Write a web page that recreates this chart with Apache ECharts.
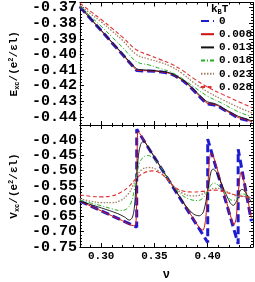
<!DOCTYPE html>
<html><head><meta charset="utf-8">
<script src="https://cdn.jsdelivr.net/npm/echarts@6/dist/echarts.min.js"></script>
<style>html,body{margin:0;padding:0;background:#fff}#c{width:255px;height:282px}</style>
</head><body><div id="c"></div>
<script>
// ---- data ----
const legendNames = ['0', '0.008', '0.013', '0.018', '0.023', '0.028'];
const xTickLabels = [0.30, 0.35, 0.40];
const eTickLabels = [-0.37, -0.38, -0.39, -0.40, -0.41, -0.42, -0.43, -0.44];
const vTickLabels = [-0.40, -0.45, -0.50, -0.55, -0.60, -0.65, -0.70, -0.75];

// top panel: E_xc
const nuE0 = [0.28, 0.29, 0.30, 0.31, 0.32, 0.3333, 0.34, 0.35, 0.36, 0.365, 0.37, 0.376, 0.382, 0.387, 0.393, 0.3995, 0.405, 0.41, 0.414, 0.418, 0.422, 0.4286, 0.435, 0.4415];
const E_T0    = [-0.3695, -0.3772, -0.3848, -0.3925, -0.4001, -0.4104, -0.4106, -0.4108, -0.4116, -0.4124, -0.4140, -0.4165, -0.4198, -0.4232, -0.4275, -0.4318, -0.4322, -0.4332, -0.4350, -0.4366, -0.4380, -0.4408, -0.4418, -0.4434];
const E_T008  = [-0.3695, -0.3772, -0.3848, -0.3924, -0.4000, -0.4100, -0.4104, -0.4107, -0.4115, -0.4123, -0.4139, -0.4164, -0.4196, -0.4230, -0.4272, -0.4313, -0.4319, -0.4330, -0.4348, -0.4364, -0.4378, -0.4404, -0.4416, -0.4432];
const E_T013  = [-0.3695, -0.3771, -0.3846, -0.3921, -0.3996, -0.4092, -0.4099, -0.4104, -0.4112, -0.4120, -0.4135, -0.4160, -0.4192, -0.4225, -0.4265, -0.4303, -0.4312, -0.4325, -0.4342, -0.4358, -0.4372, -0.4396, -0.4410, -0.4426];
const nuS = [0.28, 0.29, 0.30, 0.31, 0.32, 0.3333, 0.345, 0.355, 0.365, 0.376, 0.387, 0.40, 0.414, 0.428, 0.4415];
const E_T018  = [-0.3694, -0.3757, -0.3820, -0.3888, -0.3955, -0.4047, -0.4068, -0.4090, -0.4112, -0.4154, -0.4208, -0.4268, -0.4315, -0.4365, -0.4400];
const E_T023  = [-0.3686, -0.3740, -0.3792, -0.3850, -0.3910, -0.4002, -0.4030, -0.4050, -0.4076, -0.4122, -0.4182, -0.4240, -0.4290, -0.4336, -0.4375];
const E_T028  = [-0.3672, -0.3725, -0.3777, -0.3832, -0.3890, -0.3972, -0.4005, -0.4032, -0.4059, -0.4101, -0.4155, -0.4210, -0.4256, -0.4300, -0.4341];

// bottom panel: V_xc  [nu, V]
const V_T0 = [[0.28,-0.600],[0.33333,-0.685],[0.33334,-0.365],[0.39999,-0.735],[0.40001,-0.397],[0.42856,-0.740],[0.42858,-0.430],[0.441,-0.666]];
const V_T008 = [[0.28,-0.600],[0.30,-0.632],[0.32,-0.664],[0.330,-0.680],[0.3325,-0.676],[0.3333,-0.56],[0.3338,-0.42],[0.3345,-0.372],[0.336,-0.378],[0.35,-0.456],[0.37,-0.566],[0.385,-0.649],[0.392,-0.686],[0.3955,-0.695],[0.398,-0.66],[0.400,-0.56],[0.4015,-0.47],[0.403,-0.443],[0.405,-0.450],[0.415,-0.570],[0.422,-0.655],[0.4245,-0.678],[0.4265,-0.66],[0.4286,-0.58],[0.430,-0.525],[0.4314,-0.505],[0.433,-0.52],[0.441,-0.655]];
const V_T013 = [[0.28,-0.600],[0.30,-0.622],[0.315,-0.640],[0.322,-0.652],[0.3263,-0.662],[0.329,-0.655],[0.331,-0.625],[0.3333,-0.52],[0.335,-0.45],[0.337,-0.415],[0.3393,-0.405],[0.342,-0.412],[0.35,-0.457],[0.36,-0.512],[0.37,-0.566],[0.38,-0.618],[0.387,-0.643],[0.392,-0.648],[0.396,-0.635],[0.40,-0.566],[0.403,-0.505],[0.405,-0.495],[0.408,-0.505],[0.415,-0.56],[0.421,-0.605],[0.424,-0.614],[0.427,-0.600],[0.4286,-0.584],[0.431,-0.563],[0.433,-0.562],[0.436,-0.575],[0.441,-0.604]];
const V_T018 = [[0.28,-0.597],[0.29,-0.606],[0.30,-0.615],[0.31,-0.625],[0.318,-0.631],[0.324,-0.625],[0.328,-0.605],[0.331,-0.565],[0.3333,-0.515],[0.336,-0.475],[0.34,-0.455],[0.344,-0.451],[0.348,-0.458],[0.355,-0.485],[0.362,-0.522],[0.3683,-0.553],[0.375,-0.578],[0.383,-0.594],[0.391,-0.598],[0.396,-0.588],[0.40,-0.566],[0.403,-0.548],[0.406,-0.541],[0.41,-0.548],[0.417,-0.578],[0.423,-0.597],[0.426,-0.596],[0.4286,-0.585],[0.432,-0.576],[0.435,-0.578],[0.441,-0.592]];
const V_T023 = [[0.28,-0.592],[0.29,-0.600],[0.30,-0.605],[0.31,-0.605],[0.318,-0.598],[0.325,-0.578],[0.33,-0.548],[0.3333,-0.520],[0.338,-0.497],[0.345,-0.490],[0.352,-0.497],[0.36,-0.522],[0.3683,-0.553],[0.377,-0.575],[0.386,-0.583],[0.393,-0.580],[0.40,-0.567],[0.407,-0.558],[0.414,-0.562],[0.422,-0.576],[0.4286,-0.584],[0.435,-0.585],[0.441,-0.589]];
const V_T028 = [[0.28,-0.580],[0.29,-0.584],[0.30,-0.586],[0.31,-0.583],[0.318,-0.572],[0.326,-0.552],[0.3333,-0.525],[0.34,-0.508],[0.348,-0.501],[0.355,-0.508],[0.362,-0.527],[0.3683,-0.552],[0.376,-0.566],[0.386,-0.570],[0.395,-0.568],[0.40,-0.566],[0.407,-0.564],[0.415,-0.569],[0.4286,-0.582],[0.441,-0.587]];

// ---- helpers ----
const X_MIN = 0.28, X_MAX = 0.4425;
const E_MIN = -0.4452, E_MAX = -0.3668;
const V_MIN = -0.75, V_MAX = -0.351;
function steps(a, b, s) { const r = []; const n = Math.round((b - a) / s); for (let i = 0; i <= n; i++) r.push(+(a + i * s).toFixed(4)); return r; }
const xMinor = steps(0.28, 0.44, 0.01);
const eMinor = steps(-0.444, -0.368, 0.002);
const vMinor = steps(-0.75, -0.36, 0.01);
const zip = (xs, ys) => xs.map((x, i) => [x, ys[i]]);

const MONO = 'Liberation Mono';
function xAx(grid, pos, ticks, len, showLine, labels) {
  return {
    type: 'value', gridIndex: grid, position: pos, min: X_MIN, max: X_MAX,
    axisLine: { show: showLine, onZero: false, lineStyle: { color: '#000', width: 1 } },
    axisTick: { show: true, inside: true, length: len, customValues: ticks, lineStyle: { color: '#000', width: 1 } },
    axisLabel: labels ? { show: true, interval: 0, customValues: labels, showMinLabel: true, showMaxLabel: true, formatter: v => v.toFixed(2), color: '#000', fontFamily: MONO, fontWeight: 'bold', fontSize: 11, margin: 4 } : { show: false },
    splitLine: { show: false }
  };
}
function yAx(grid, pos, mn, mx, ticks, len, showLine, labels, name) {
  const o = {
    type: 'value', gridIndex: grid, position: pos, min: mn, max: mx,
    axisLine: { show: showLine, onZero: false, lineStyle: { color: '#000', width: 1 } },
    axisTick: { show: true, inside: true, length: len, customValues: ticks, lineStyle: { color: '#000', width: 1 } },
    axisLabel: labels ? { show: true, interval: 0, customValues: labels, showMinLabel: true, showMaxLabel: true, hideOverlap: false, formatter: v => v.toFixed(2), color: '#000', fontFamily: MONO, fontWeight: 'bold', fontSize: 15, lineHeight: 12, margin: 3 } : { show: false },
    splitLine: { show: false }
  };
  if (name) {
    o.name = name; o.nameLocation = 'middle'; o.nameRotate = 90; o.nameGap = 38;
    o.nameTextStyle = { color: '#000', fontFamily: MONO, fontWeight: 'bold', fontSize: 11,
      rich: { b: { fontFamily: MONO, fontWeight: 'bold', fontSize: 11, color: '#000' },
              sub: { fontFamily: MONO, fontWeight: 'bold', fontSize: 7, color: '#000', padding: [6, 0, 0, 0] },
              sup: { fontFamily: MONO, fontWeight: 'bold', fontSize: 7, color: '#000', padding: [0, 0, 6, 0] } } };
  }
  return o;
}

const styles = [
  { color: '#1c1cd0', width: 3, type: [8, 4] },
  { color: '#cc1111', width: 1, type: 'solid' },
  { color: '#111111', width: 0.9, type: 'solid' },
  { color: '#22b022', width: 1, type: [4, 2, 1, 2] },
  { color: '#a58060', width: 1.3, type: [1.5, 1.5] },
  { color: '#e03030', width: 1.1, type: [4, 2.5] }
];
const topData = [zip(nuE0, E_T0), zip(nuE0, E_T008), zip(nuE0, E_T013), zip(nuS, E_T018), zip(nuS, E_T023), zip(nuS, E_T028)];
const botData = [V_T0, V_T008, V_T013, V_T018, V_T023, V_T028];
const smoothTop = [false, 0.2, 0.3, 0.4, 0.4, 0.4];
const smoothBot = [false, 0.25, 0.3, 0.4, 0.4, 0.4];

const series = [];
legendNames.forEach((nm, i) => {
  series.push({ name: nm, type: 'line', xAxisIndex: 0, yAxisIndex: 0, data: topData[i], symbol: 'none', smooth: smoothTop[i], lineStyle: styles[i], itemStyle: { color: styles[i].color }, z: 2 + i, animation: false });
  series.push({ name: nm, type: 'line', xAxisIndex: 4, yAxisIndex: 4, data: botData[i], symbol: 'none', smooth: smoothBot[i], lineStyle: styles[i], itemStyle: { color: styles[i].color }, z: 2 + i, animation: false });
});

const chart = echarts.init(document.getElementById('c'), null, { renderer: 'canvas' });
chart.setOption({
  animation: false,
  backgroundColor: '#fff',
  grid: [
    { left: 53, right: 2, top: 2, height: 123 },
    { left: 53, right: 2, top: 125, height: 124 }
  ],
  xAxis: [
    xAx(0, 'bottom', xTickLabels, 4, true, null),
    xAx(0, 'top', xTickLabels, 4, true, null),
    xAx(0, 'bottom', xMinor, 2, false, null),
    xAx(0, 'top', xMinor, 2, false, null),
    Object.assign(xAx(1, 'bottom', xTickLabels, 4, true, xTickLabels), { name: 'ν', nameLocation: 'middle', nameGap: 22, nameTextStyle: { color: '#000', fontFamily: MONO, fontWeight: 'bold', fontSize: 12 } }),
    xAx(1, 'top', xTickLabels, 4, true, null),
    xAx(1, 'bottom', xMinor, 2, false, null),
    xAx(1, 'top', xMinor, 2, false, null)
  ],
  yAxis: [
    yAx(0, 'left', E_MIN, E_MAX, eTickLabels, 4, true, eTickLabels, '{b|E}{sub|xc}{b|/(e}{sup|2}{b|/εl)}'),
    yAx(0, 'right', E_MIN, E_MAX, eTickLabels, 4, true, null),
    yAx(0, 'left', E_MIN, E_MAX, eMinor, 2, false, null),
    yAx(0, 'right', E_MIN, E_MAX, eMinor, 2, false, null),
    yAx(1, 'left', V_MIN, V_MAX, vTickLabels, 4, true, vTickLabels, '{b|V}{sub|xc}{b|/(e}{sup|2}{b|/εl)}'),
    yAx(1, 'right', V_MIN, V_MAX, vTickLabels, 4, true, null),
    yAx(1, 'left', V_MIN, V_MAX, vMinor, 2, false, null),
    yAx(1, 'right', V_MIN, V_MAX, vMinor, 2, false, null)
  ],
  legend: {
    data: legendNames, orient: 'vertical', left: 200, top: 15.5, itemWidth: 13, itemHeight: 11, itemGap: 2.2, padding: 0,
    itemStyle: { opacity: 0 },
    textStyle: { color: '#000', fontFamily: MONO, fontWeight: 'bold', fontSize: 11, lineHeight: 11 },
    selectedMode: false
  },
  graphic: [{
    type: 'text', left: 211, top: 4, z: 100,
    style: { text: '{b|k}{sub|B}{b|T}', rich: { b: { fontFamily: MONO, fontWeight: 'bold', fontSize: 11, fill: '#000' }, sub: { fontFamily: MONO, fontWeight: 'bold', fontSize: 7, fill: '#000', padding: [5, 0, 0, 0] } } }
  }],
  series: series
});
</script></body></html>
